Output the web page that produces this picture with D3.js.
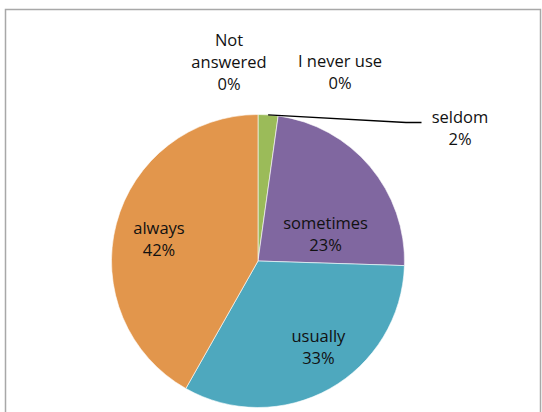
<!DOCTYPE html>
<html>
<head>
<meta charset="utf-8">
<script src="https://cdn.jsdelivr.net/npm/d3@7"></script>
<style>
  body { margin: 0; background: #fff; }
  text { font-family: "Open Sans", sans-serif; font-size: 16.5px; fill: #111; }
</style>
</head>
<body>
<div class="canvas"></div>
<script>
// data (percent of answers)
const categories = ['Not answered', 'I never use', 'seldom', 'sometimes', 'usually', 'always'];
const values = [0, 0, 2.2, 23.3, 32.7, 41.8];
const labelNames = [['Not', 'answered'], ['I never use'], ['seldom'], ['sometimes'], ['usually'], ['always']];
const colours = ['#4f81bd', '#c0504d', '#9bbb59', '#8067a0', '#4ea8be', '#e2964c'];

const dims = { width: 542, height: 412, radius: 146.5 };
const cent = { x: 258, y: 261 };
const lineH = 22;

const svg = d3.select('.canvas')
  .append('svg')
  .attr('width', dims.width)
  .attr('height', dims.height);

// chart frame (runs off the bottom)
svg.append('rect')
  .attr('x', 5.5).attr('y', 9.5)
  .attr('width', 535).attr('height', 420)
  .attr('fill', 'none')
  .attr('stroke', '#a8a8a8')
  .attr('stroke-width', 1.5);

const graph = svg.append('g')
  .attr('transform', `translate(${cent.x}, ${cent.y})`);

const pie = d3.pie()
  .sort(null)
  .value(d => d.value);

const data = categories.map((c, i) => ({ name: c, value: values[i], lines: labelNames[i] }));
const arcs = pie(data);

const arcPath = d3.arc()
  .outerRadius(dims.radius)
  .innerRadius(0);

const colour = d3.scaleOrdinal()
  .domain(categories)
  .range(colours);

graph.selectAll('path')
  .data(arcs.filter(d => d.value > 0))
  .enter()
  .append('path')
    .attr('d', arcPath)
    .attr('fill', d => colour(d.data.name))
    .attr('stroke', '#fff')
    .attr('stroke-width', 0.6);

// label placement: inside labels as (radius fraction, angle shift), outside ones as offsets from centre
const inside = {
  sometimes: { k: 0.497, da: 18.3 },
  usually: { k: 0.72, da: -5.6 },
  always: { k: 0.693, da: -2 }
};
const outside = {
  'Not answered': { dx: -29, dy: -199 },
  'I never use': { dx: 82, dy: -189 },
  'seldom': { dx: 202, dy: -133 }
};

const pct = d => Math.round(d.value) + '%';

function placeLabel(d) {
  const n = d.data.name;
  if (inside[n]) {
    const a = (d.startAngle + d.endAngle) / 2 + inside[n].da * Math.PI / 180;
    const r = dims.radius * inside[n].k;
    return [r * Math.sin(a), -r * Math.cos(a)];
  }
  return [outside[n].dx, outside[n].dy];
}

const labels = graph.selectAll('.label')
  .data(arcs)
  .enter()
  .append('text')
    .attr('class', 'label')
    .attr('text-anchor', 'middle')
    .attr('transform', d => `translate(${placeLabel(d)})`);

labels.each(function(d) {
  const lines = d.data.lines.concat([pct(d)]);
  const t = d3.select(this);
  lines.forEach((l, i) => {
    t.append('tspan')
      .attr('x', 0)
      .attr('y', (i - (lines.length - 1) / 2) * lineH + 6)
      .text(l);
  });
});

// leader line for the thin seldom slice
const seldom = arcs.find(d => d.data.name === 'seldom');
const mid = (seldom.startAngle + seldom.endAngle) / 2;
const p0 = [dims.radius * Math.sin(mid), -dims.radius * Math.cos(mid)];
const lbl = placeLabel(seldom);
graph.append('polyline')
  .attr('points', [p0, [lbl[0] - 54, lbl[1] - 5.5], [lbl[0] - 38.5, lbl[1] - 5.5]].join(' '))
  .attr('fill', 'none')
  .attr('stroke', '#000')
  .attr('stroke-width', 1.4);
</script>
</body>
</html>
